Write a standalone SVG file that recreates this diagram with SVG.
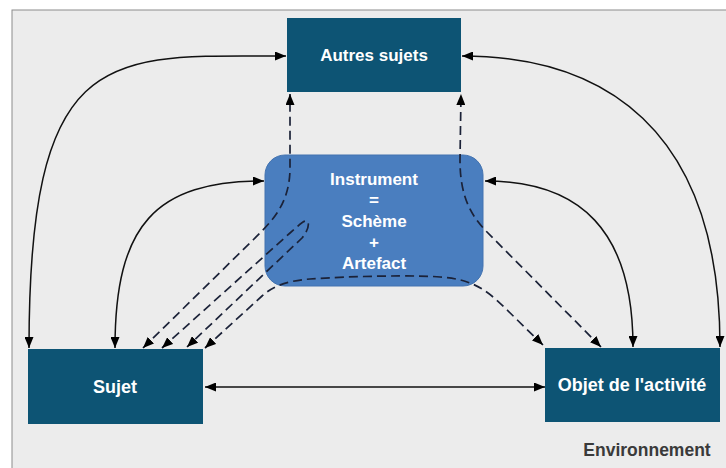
<svg xmlns="http://www.w3.org/2000/svg" width="726" height="468" viewBox="0 0 726 468">
<style>
.dark{fill:#0d5474;}
.inst{fill:#4a7ebf;stroke:#4373b0;stroke-width:1;}
.lbl{font-family:"Liberation Sans",Arial,sans-serif;font-weight:bold;fill:#ffffff;text-anchor:middle;}
.solid{fill:none;stroke:#111;stroke-width:1.5;marker-start:url(#arr);marker-end:url(#arr);}
.dash{fill:none;stroke:#1b2238;stroke-width:1.7;stroke-dasharray:9,5;marker-start:url(#arr);marker-end:url(#arr);}
</style>
<defs>
<marker id="arr" viewBox="0 0 11 9" refX="11" refY="4.5" markerWidth="11" markerHeight="9" markerUnits="userSpaceOnUse" orient="auto-start-reverse">
<path d="M0,0 L11,4.5 L0,9 z" fill="#000"/>
</marker>
</defs>
<rect x="0" y="0" width="726" height="468" fill="#ffffff"/>
<rect id="environnement-frame" x="12" y="10" width="730" height="470" fill="#ececec" stroke="#8c8c8c" stroke-width="1"/>
<text id="environnement" x="647" y="456" font-family="Liberation Sans, Arial, sans-serif" font-weight="bold" font-size="17.5" fill="#3a3a3a" text-anchor="middle">Environnement</text>

<g id="autres-sujets">
<rect class="dark" x="287" y="18" width="174" height="74"/>
<text class="lbl" x="374" y="61" font-size="17">Autres sujets</text>
</g>

<g id="instrument">
<rect class="inst" x="265" y="155" width="218" height="131" rx="20" ry="20"/>
<text class="lbl" x="374" y="185" font-size="17">Instrument</text>
<text class="lbl" x="374" y="206" font-size="17">=</text>
<text class="lbl" x="374" y="227" font-size="17">Schème</text>
<text class="lbl" x="374" y="248" font-size="17">+</text>
<text class="lbl" x="374" y="269" font-size="17">Artefact</text>
</g>

<g id="sujet">
<rect class="dark" x="28" y="349" width="175" height="75"/>
<text class="lbl" x="115" y="393" font-size="18">Sujet</text>
</g>

<g id="objet">
<rect class="dark" x="545" y="348" width="175" height="74"/>
<text class="lbl" x="632" y="391" font-size="18">Objet de l'activité</text>
</g>

<g id="connectors">
<path class="solid" d="M29,348 C29,40 110,56 286,56"/>
<path class="solid" d="M462,56 C600,56 720,125 720,347"/>
<path class="solid" d="M115,348 C115,225 155,181 264,181"/>
<path class="solid" d="M485,181 C580,181 633,230 633,347"/>
<path class="solid" d="M205,387 L545,387"/>
<path class="dash" d="M143,348 L253,240 C272,221 289,205 290,170 L290,94"/>
<path class="dash" d="M601,347 L487,232 C470,215 460,195 460,160 L461,94"/>
<path class="dash" d="M162,348 L290,233 C298,226 303,221 306,221 C310,221 309,230 302,238 L187,347"/>
<path class="dash" d="M205,348 L262,296 C272,287 285,281 310,279 C350,276 420,275 440,277 C470,279 485,288 505,308 L543,345"/>
</g>
</svg>
